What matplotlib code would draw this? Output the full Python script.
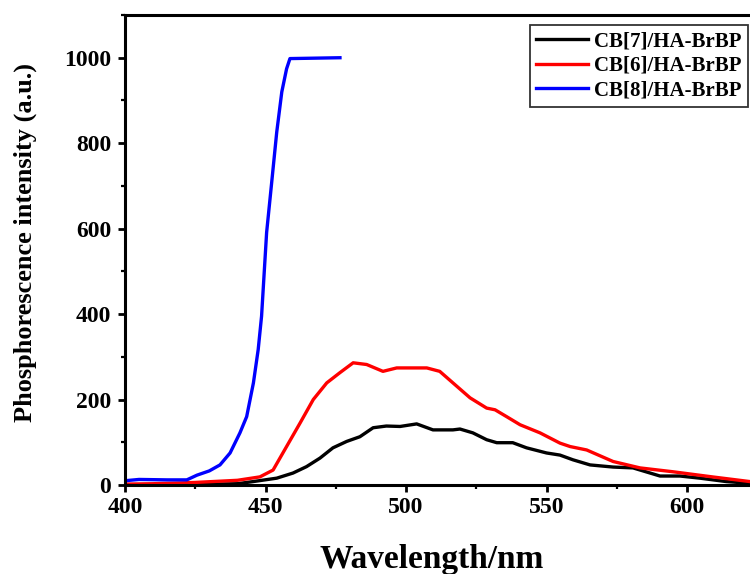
"""Phosphorescence spectra of CB[n]/HA-BrBP assemblies."""
import matplotlib
matplotlib.use("Agg")
import matplotlib.pyplot as plt
from matplotlib.ticker import FixedLocator, MultipleLocator

matplotlib.rcParams.update({
    "font.family": "Liberation Serif", "font.weight": "bold",
    "axes.linewidth": 2.2,
    "xtick.direction": "out", "ytick.direction": "out",
    "xtick.major.size": 5, "ytick.major.size": 5,
    "xtick.minor.size": 3, "ytick.minor.size": 3,
    "xtick.major.width": 2, "ytick.major.width": 2,
    "xtick.minor.width": 1.6, "ytick.minor.width": 1.6,
})

# spectra (wavelength nm, intensity a.u.)
wl_cb7 = [400, 420, 440, 445.6, 454, 459.8, 464.6, 469.4, 474, 478.9, 483.6, 488.3,
          493, 497.9, 503.8, 509.6, 516.7, 519.2, 523.8, 528.7, 532.3, 538, 542.9,
          550, 554.8, 559.4, 565.5, 573.7, 580.8, 590.4, 597.5, 604.6, 614, 622.4]
int_cb7 = [1, 1, 3, 8, 16, 28, 43, 63, 87, 102, 113, 134,
           138, 137, 143, 129, 129, 131, 122, 106, 99, 99, 87,
           75, 70, 59, 47, 42, 40, 21, 21, 16, 8, 4]

wl_cb6 = [400, 410, 425, 440, 448, 452.7, 457.5, 462.3, 467, 471.8, 476.5, 481.2,
          486, 491.8, 496.7, 507.4, 512, 516.7, 522.8, 528.7, 531.7, 535.8, 540.6,
          547.7, 554.8, 558.4, 564.3, 573.7, 583.3, 595, 609, 622.4]
int_cb6 = [2, 3, 6, 11, 19, 35, 90, 145, 200, 239, 263, 286,
           282, 266, 274, 274, 266, 239, 204, 180, 176, 160, 141,
           122, 98, 90, 82, 55, 40, 31, 19, 8]

wl_cb8 = [400, 405, 415, 422, 425.6, 430, 433.8, 437.4, 440.9, 443.3, 445.7, 447.4,
          448.6, 450.4, 452.2, 454, 455.8, 457.5, 458.7, 476.5]
int_cb8 = [10, 13, 12, 12, 23, 33, 47, 75, 122, 160, 239, 317,
           395, 591, 708, 826, 920, 974, 998, 1000]

x_ticks = [400, 450, 500, 550, 600]

fig = plt.figure(figsize=(7.5, 5.74), dpi=100)
# the original is cropped at the right, so the axes run past the figure edge
ax = fig.add_axes([125 / 750, 89 / 574, 702.5 / 750, 470 / 574])

ax.plot(wl_cb7, int_cb7, color="black", linewidth=2.4, label="CB[7]/HA-BrBP")
ax.plot(wl_cb6, int_cb6, color="#ff0000", linewidth=2.4, label="CB[6]/HA-BrBP")
ax.plot(wl_cb8, int_cb8, color="#0000ff", linewidth=2.4, label="CB[8]/HA-BrBP")

ax.set_xlim(400, 650)
ax.set_ylim(0, 1100)
ax.xaxis.set_major_locator(FixedLocator(x_ticks))
ax.xaxis.set_minor_locator(FixedLocator([425, 475, 525, 575, 625]))
ax.yaxis.set_major_locator(MultipleLocator(200))
ax.yaxis.set_minor_locator(MultipleLocator(100))
ax.tick_params(labelsize=17)
ax.tick_params(axis="y", pad=5)
ax.spines["right"].set_visible(False)

ax.set_xlabel("Wavelength/nm", fontsize=24, fontweight="bold")
ax.xaxis.set_label_coords(0.437, -0.125)
ax.set_ylabel("Phosphorescence intensity (a.u.)", fontsize=19, fontweight="bold")
ax.yaxis.set_label_coords(-0.125, 0.517)

leg = ax.legend(loc="upper right", bbox_to_anchor=(748 / 750, 1 - 25 / 574),
                bbox_transform=fig.transFigure, borderaxespad=0, fancybox=False,
                prop={"size": 15, "weight": "bold"}, handlelength=2.5,
                handletextpad=0.3, labelspacing=0.22, borderpad=0.3, framealpha=1)
leg.get_frame().set_edgecolor("#333333")
leg.get_frame().set_linewidth(1.3)

fig.savefig("out.png", dpi=100)
